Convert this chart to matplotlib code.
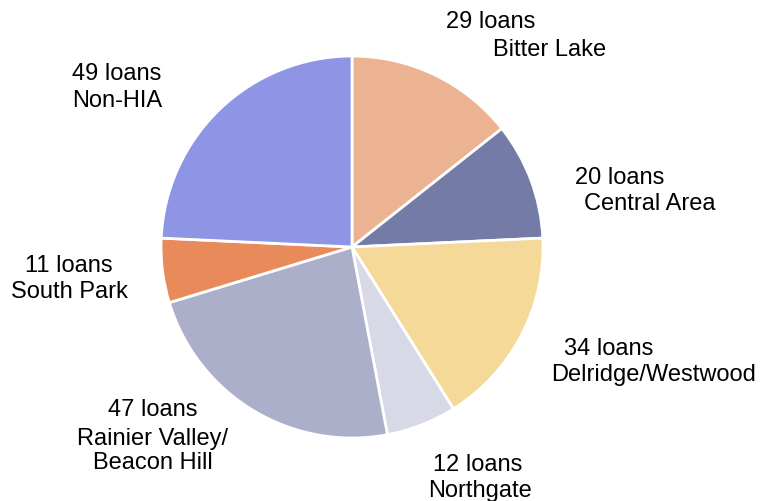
import matplotlib.pyplot as plt

plt.rcParams["font.family"] = ["Liberation Sans", "DejaVu Sans"]

# data (clockwise from 12 o'clock)
areas = ["Bitter Lake", "Central Area", "Delridge/Westwood", "Northgate",
         "Rainier Valley/\nBeacon Hill", "South Park", "Non-HIA"]
loans = [29, 20, 34, 12, 47, 11, 49]
colors = ["#ECB393", "#737BA6", "#F5D999", "#D7D9E6",
          "#ABAFCA", "#E88A59", "#8E95E5"]

# label line positions in pixels (x centre, y centre) for "N loans" and area name
count_pos = [(491, 22), (620, 178), (609, 349), (478, 465), (153, 410), (69, 266), (117, 74)]
name_pos = [(550, 50), (650, 204), (654, 375), (480, 491), (153, 451), (69, 292), (117, 101)]

W, H = 760, 502
fig = plt.figure(figsize=(W / 100, H / 100), dpi=100)

cx, cy, r = 352, 248, 191
ax = fig.add_axes([(cx - r) / W, (H - cy - r) / H, 2 * r / W, 2 * r / H])
ax.pie(loans, colors=colors, startangle=90, counterclock=False,
       wedgeprops={"edgecolor": "white", "linewidth": 2})
ax.set_xlim(-1, 1)
ax.set_ylim(-1, 1)
ax.set_aspect("equal")
ax.axis("off")

for n, name, (x1, y1), (x2, y2) in zip(loans, areas, count_pos, name_pos):
    fig.text(x1 / W, 1 - y1 / H, f"{n} loans", ha="center", va="center", fontsize=17)
    fig.text(x2 / W, 1 - y2 / H, name, ha="center", va="center", fontsize=17,
             linespacing=1.1)

fig.savefig("out.png", dpi=100)
